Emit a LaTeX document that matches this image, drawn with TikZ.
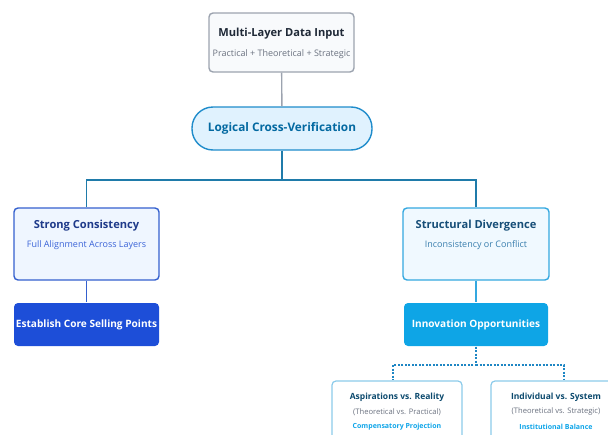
\documentclass[tikz,border=0pt]{standalone}
\usepackage{fontspec}
\setmainfont{Open Sans}
\usepackage{xcolor}
\usetikzlibrary{positioning,calc}

\definecolor{inputline}{HTML}{9CA3AF}
\definecolor{inputfill}{HTML}{F8FAFC}
\definecolor{inputtext}{HTML}{1F2937}
\definecolor{inputsub}{HTML}{6B7280}
\definecolor{verifyfill}{HTML}{E0F2FE}
\definecolor{verifyline}{HTML}{1F8CCB}
\definecolor{verifytext}{HTML}{0369A1}
\definecolor{splitcol}{HTML}{1F7BAA}
\definecolor{strongline}{HTML}{3460CE}
\definecolor{strongfill}{HTML}{EFF6FF}
\definecolor{strongtext}{HTML}{1E3A8A}
\definecolor{strongsub}{HTML}{3B64D8}
\definecolor{corefill}{HTML}{1D4ED8}
\definecolor{divline}{HTML}{34A8E0}
\definecolor{divfill}{HTML}{F0F9FF}
\definecolor{divtext}{HTML}{164E78}
\definecolor{divsub}{HTML}{3A7FAE}
\definecolor{innovfill}{HTML}{0EA5E6}
\definecolor{forkcol}{HTML}{1E86C4}
\definecolor{tensline}{HTML}{8CCBEA}
\definecolor{tenstext}{HTML}{0C4A6E}
\definecolor{tensgain}{HTML}{0EA5E9}

\tikzset{
  box/.style={rectangle, rounded corners=4pt, line width=1.4pt, inner sep=0pt},
  inbox/.style={box, draw=inputline, fill=inputfill, minimum width=145pt, minimum height=59pt},
  pill/.style={box, rounded corners=21pt, draw=verifyline, fill=verifyfill, minimum width=180pt, minimum height=43pt,
    text=verifytext, font=\fontsize{11.8}{14}\selectfont\bfseries},
  consist/.style={box, draw=strongline, fill=strongfill, minimum width=145pt, minimum height=72pt},
  diverg/.style={box, draw=divline, fill=divfill, minimum width=146pt, minimum height=72pt},
  solidbox/.style={box, draw=none, minimum width=145pt, minimum height=43pt, text=white,
    font=\fontsize{10.1}{12}\selectfont\bfseries},
  tensbox/.style={box, line width=1.2pt, draw=tensline, fill=white, minimum width=130pt, minimum height=80pt},
  boxtitle/.style={inner sep=0pt, font=\fontsize{11.1}{13}\selectfont\bfseries},
  boxsub/.style={inner sep=0pt, font=\fontsize{9}{10}\selectfont},
  tenstitle/.style={inner sep=0pt, font=\fontsize{8.5}{11}\selectfont\bfseries, text=tenstext},
  tenssub/.style={inner sep=0pt, font=\fontsize{7.6}{9}\selectfont, text=inputsub},
  tensgainlabel/.style={inner sep=0pt, font=\fontsize{7}{9}\selectfont\bfseries, text=tensgain},
  link/.style={line width=1.4pt},
}

\begin{document}
\begin{tikzpicture}[x=1pt, y=-1pt]
\useasboundingbox (0,0) rectangle (608,434);
\clip (0,0) rectangle (608,434);

% input
\node[inbox] (input) at (281.5,42.5) {};
\node[boxtitle, text=inputtext] (inputT) at (281.5,34) {Multi-Layer Data Input};
\node[boxsub, text=inputsub] (inputS) at (281.5,54) {Practical + Theoretical + Strategic};

% verification
\node[pill] (verify) at (282,128.5) {Logical Cross-Verification};
\coordinate (split) at (282,180);

% two outcomes
\node[consist] (strong) at (86.5,244) {};
\node[boxtitle, text=strongtext] (strongT) at (86.5,226) {Strong Consistency};
\node[boxsub, text=strongsub] (strongS) at (86.5,245) {Full Alignment Across Layers};
\node[solidbox, fill=corefill] (core) at (86.5,324.5) {Establish Core Selling Points};

\node[diverg] (diverge) at (476,244) {};
\node[boxtitle, text=divtext] (divergeT) at (476,226) {Structural Divergence};
\node[boxsub, text=divsub] (divergeS) at (476,245) {Inconsistency or Conflict};
\node[solidbox, fill=innovfill, minimum width=144pt] (innov) at (476,324.5) {Innovation Opportunities};
\coordinate (fork) at (476,365);

% tensions
\node[tensbox] (aspire) at (397,421) {};
\node[tenstitle] (aspireT) at (397,397) {Aspirations vs. Reality};
\node[tenssub] (aspireS) at (397,412) {(Theoretical vs. Practical)};
\node[tensgainlabel] (aspireG) at (397,427) {Compensatory Projection};

\node[tensbox] (indiv) at (556,421) {};
\node[tenstitle] (indivT) at (556,397) {Individual vs. System};
\node[tenssub] (indivS) at (556,412) {(Theoretical vs. Strategic)};
\node[tensgainlabel] (indivG) at (556,427) {Institutional Balance};

% connectors
\draw[link, inputline] (input) -- (verify);
\draw[link, splitcol] (verify) -- (split) -| (strong);
\draw[link, splitcol] (split) -| (diverge);
\draw[link, strongline] (strong) -- (core);
\draw[link, divline] (diverge) -- (innov);
\draw[link, forkcol, dash pattern=on 2pt off 1.5pt] (innov) -- (fork) -| ([xshift=-4pt]aspire.north);
\draw[link, forkcol, dash pattern=on 2pt off 1.5pt] (fork) -| ([xshift=8pt]indiv.north);
\end{tikzpicture}
\end{document}
